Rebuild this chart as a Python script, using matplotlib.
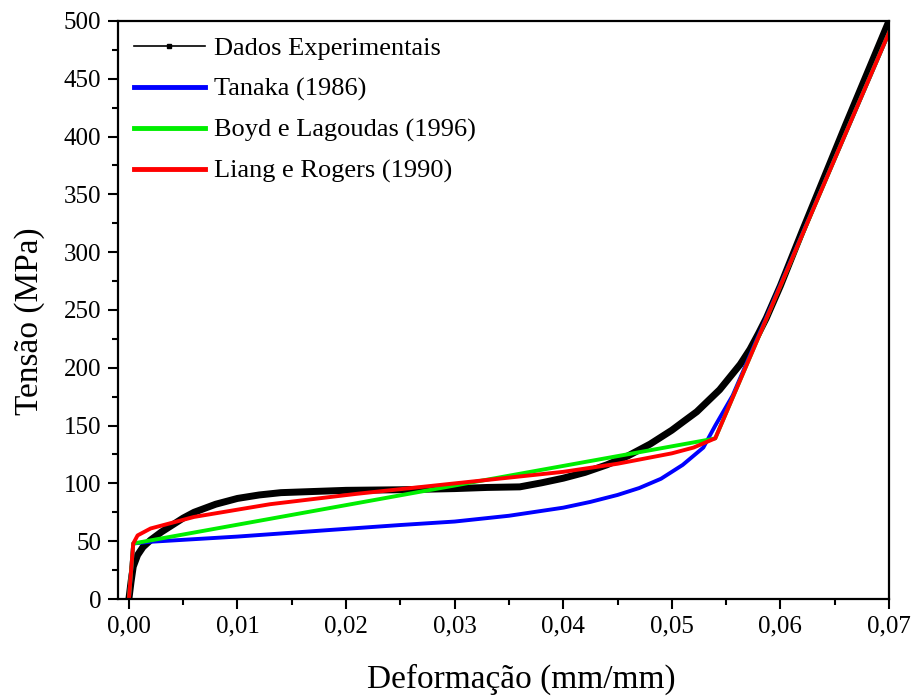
import numpy as np
import matplotlib.pyplot as plt
from matplotlib.lines import Line2D
from matplotlib.ticker import MultipleLocator, FuncFormatter

plt.rcParams['font.family'] = ['Liberation Serif', 'DejaVu Serif']

# dados experimentais
exp_x = [0, 0.0002, 0.0004, 0.0008, 0.0013, 0.002, 0.003, 0.004, 0.005, 0.006,
         0.008, 0.010, 0.012, 0.014, 0.017, 0.020, 0.025, 0.030, 0.033, 0.036,
         0.038, 0.040, 0.042, 0.044, 0.046, 0.048, 0.050, 0.051, 0.0523, 0.0544,
         0.0563, 0.0572, 0.058, 0.0587, 0.060, 0.062, 0.064, 0.066, 0.068, 0.070]
exp_y = [0, 15, 28, 38, 45, 51, 58, 64, 70, 75,
         82, 87, 90, 92, 93, 94, 94.5, 95.5, 96.5, 97,
         100.5, 104.5, 109.5, 116, 124, 134, 146, 153, 162, 181,
         203, 216, 230, 243, 271, 318, 364, 410, 455, 500]

# Tanaka (1986)
tan_x = [0, 0.0004, 0.002, 0.01, 0.0185, 0.025, 0.03, 0.035, 0.04, 0.0425, 0.045,
         0.047, 0.049, 0.051, 0.0529, 0.054, 0.0556, 0.0662, 0.070]
tan_y = [0, 48, 49.5, 54, 59.7, 64, 67, 72, 79, 84, 90, 96, 104, 116, 131, 150, 176,
         407, 490]

# Boyd e Lagoudas (1996)
boyd_x = [0, 0.0004, 0.0535, 0.054, 0.0662, 0.070]
boyd_y = [0, 48, 138, 139, 407, 490]

# Liang e Rogers (1990)
liang_x = [0, 0.0004, 0.0008, 0.002, 0.006, 0.013, 0.021, 0.03, 0.04, 0.045,
           0.05, 0.052, 0.054, 0.0662, 0.070]
liang_y = [0, 48, 55, 61, 71, 82, 91, 100, 110, 117, 126, 131, 139, 407, 490]

fig = plt.figure(figsize=(9.15, 6.97), dpi=100)
ax = fig.add_axes([0.129, 0.1406, 0.8426, 0.8293])

ax.plot(exp_x, exp_y, color='black', lw=5)
ax.plot(tan_x, tan_y, color='#0000ff', lw=2.8)
ax.plot(boyd_x, boyd_y, color='#00ee00', lw=2.8)
ax.plot(liang_x, liang_y, color='#ff0000', lw=2.8)

ax.set_xlim(-0.001, 0.07)
ax.set_ylim(0, 500)
ax.xaxis.set_major_locator(MultipleLocator(0.01))
ax.xaxis.set_minor_locator(MultipleLocator(0.005))
ax.yaxis.set_major_locator(MultipleLocator(50))
ax.yaxis.set_minor_locator(MultipleLocator(25))
ax.xaxis.set_major_formatter(FuncFormatter(lambda v, p: f'{v:.2f}'.replace('.', ',')))
ax.tick_params(which='major', length=7, width=1.5, labelsize=18, direction='out', pad=5)
ax.tick_params(which='minor', length=4, width=1.5, direction='out')
ax.tick_params(top=False, right=False)
for s in ax.spines.values():
    s.set_linewidth(1.6)

ax.set_xlabel('Deformação (mm/mm)', fontsize=24)
ax.set_ylabel('Tensão (MPa)', fontsize=24)
ax.xaxis.set_label_coords(0.523, -0.112)
ax.yaxis.set_label_coords(-0.095, 0.481)

handles = [
    Line2D([], [], color='black', lw=1.2, marker='s', markersize=3.5),
    Line2D([], [], color='#0000ff', lw=3.5),
    Line2D([], [], color='#00ee00', lw=3.5),
    Line2D([], [], color='#ff0000', lw=3.5),
]
labels = ['Dados Experimentais', 'Tanaka (1986)', 'Boyd e Lagoudas (1996)',
          'Liang e Rogers (1990)']
ax.legend(handles, labels, loc='upper left', frameon=False, fontsize=19,
          handlelength=2.7, handletextpad=0.35, labelspacing=0.65,
          borderaxespad=0.2, borderpad=0.4, numpoints=1)

plt.savefig('out.png')
